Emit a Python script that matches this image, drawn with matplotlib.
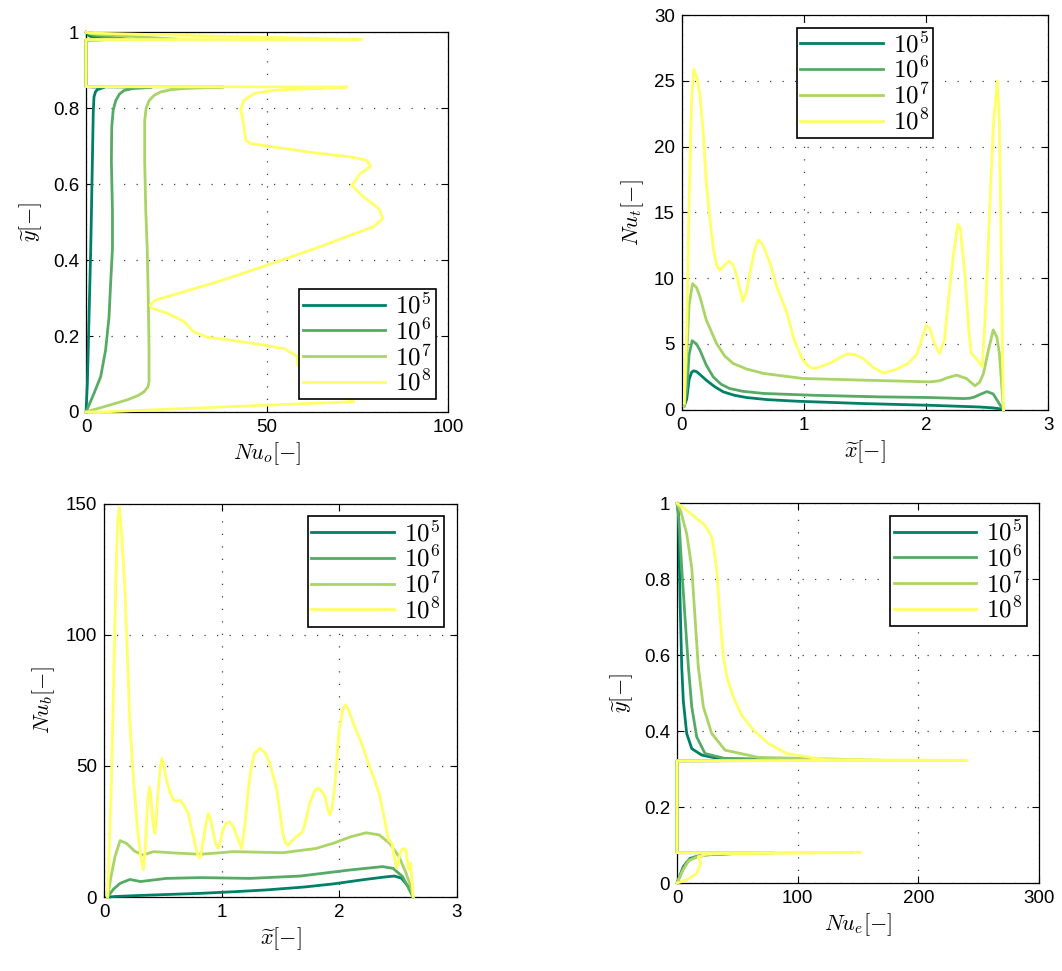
import matplotlib
matplotlib.use("Agg")
import matplotlib.pyplot as plt
from matplotlib.ticker import FuncFormatter

plt.rcParams['font.family'] = ['Liberation Sans', 'DejaVu Sans']
plt.rcParams['mathtext.fontset'] = 'cm'

labels = [r'$10^5$', r'$10^6$', r'$10^7$', r'$10^8$']
colors = ['#008066', '#55aa66', '#aad466', '#ffff66']

# ---------------- Panel 1: Nu_o vs y~ ----------------
o5_nu = [0, 0.37, 0.83, 1.3, 1.5, 1.75, 2.0, 2.2, 2.6, 3.1, 5.0, 0, 0, 6, 1, 0]
o5_y = [0, 0.075, 0.25, 0.43, 0.53, 0.66, 0.79, 0.83, 0.843, 0.849, 0.855, 0.857, 0.98, 0.981, 0.99, 1.0]
o6_nu = [0, 2.2, 4.05, 5.4, 6.35, 6.8, 7.3, 7.3, 7.0, 7.1, 7.5, 8.2, 9.2, 10.5, 13, 18, 0, 0, 12, 2, 0]
o6_y = [0, 0.049, 0.093, 0.163, 0.25, 0.34, 0.43, 0.53, 0.66, 0.75, 0.795, 0.82, 0.837, 0.847, 0.852, 0.855,
        0.857, 0.98, 0.982, 0.992, 1.0]
o7_nu = [0, 5, 11.4, 14.3, 16, 17.1, 17.4, 17.4, 17.2, 16.9, 16.5, 16.2, 16.2, 16.6, 17.4, 18.8, 20.6, 23.5,
         27, 38, 0, 0, 25, 3, 0]
o7_y = [0, 0.014, 0.032, 0.043, 0.053, 0.066, 0.08, 0.163, 0.295, 0.43, 0.53, 0.66, 0.768, 0.8, 0.82, 0.834,
        0.843, 0.849, 0.852, 0.856, 0.857, 0.98, 0.982, 0.995, 1.0]
o8_nu = [0, 4, 63, 74, 68, 60, 58.4, 58.4, 54.7, 49.2, 40.9, 33.5, 29.8, 27.1, 22.5, 18.3, 17.7, 19.2,
         27.1, 36.3, 50.1, 63, 79.4, 82, 80.8, 76.6, 73.4, 75.7, 78.6, 77.5, 72.9, 63.7, 54.7, 45.5,
         44.1, 43.6, 43.2, 42.7, 43.6, 46.4, 51, 54.7, 64.6, 72, 0, 0, 76, 1, 0]
o8_y = [0, 0.0, 0.023, 0.027, 0.06, 0.1, 0.125, 0.146, 0.167, 0.176, 0.188, 0.197, 0.211, 0.238, 0.26, 0.273, 0.282, 0.295,
        0.317, 0.343, 0.387, 0.43, 0.488, 0.51, 0.536, 0.567, 0.597, 0.628, 0.647, 0.663, 0.672, 0.682, 0.694, 0.707,
        0.716, 0.751, 0.777, 0.795, 0.821, 0.839, 0.846, 0.849, 0.852, 0.856, 0.857, 0.981, 0.981, 0.998, 1.0]

# ---------------- Panel 2: Nu_t vs x~ ----------------
t5_x = [0.02, 0.04, 0.06, 0.08, 0.098, 0.12, 0.14, 0.17, 0.2, 0.27, 0.34, 0.43, 0.53, 0.7, 0.94, 1.49, 2.03,
        2.44, 2.55, 2.6, 2.634]
t5_nu = [0.3, 0.8, 2.3, 2.85, 2.96, 2.9, 2.75, 2.5, 2.25, 1.75, 1.36, 1.1, 0.93, 0.77, 0.65, 0.47, 0.34,
         0.21, 0.14, 0.08, 0.0]
t6_x = [0.02, 0.04, 0.06, 0.085, 0.12, 0.148, 0.2, 0.257, 0.32, 0.39, 0.5, 0.67, 1.08, 1.62, 2.03, 2.31, 2.36,
        2.4, 2.45, 2.5, 2.55, 2.58, 2.61, 2.634]
t6_nu = [0.3, 1.5, 4.2, 5.25, 5.0, 4.54, 3.4, 2.5, 1.95, 1.62, 1.4, 1.24, 1.1, 0.98, 0.93, 0.85, 0.88,
         0.98, 1.2, 1.38, 1.2, 0.75, 0.3, 0.0]
t7_x = [0.02, 0.04, 0.06, 0.088, 0.12, 0.148, 0.2, 0.284, 0.35, 0.42, 0.53, 0.67, 0.99, 1.49, 2.03, 2.11,
        2.18, 2.25, 2.33, 2.4, 2.44, 2.47, 2.51, 2.55, 2.58, 2.6, 2.634]
t7_nu = [0.3, 4, 8, 9.58, 9.3, 8.6, 6.83, 5.05, 4.1, 3.52, 3.1, 2.76, 2.38, 2.25, 2.12, 2.2,
         2.45, 2.63, 2.38, 1.82, 2.1, 2.76, 4.5, 6.07, 5.5, 4.3, 0.0]
t8_x = [0.02, 0.04, 0.06, 0.08, 0.098, 0.125, 0.148, 0.175, 0.2, 0.23, 0.257, 0.285, 0.31, 0.35, 0.39, 0.42, 0.45,
        0.5, 0.53, 0.56, 0.6, 0.626, 0.66, 0.72, 0.78, 0.86, 0.92, 0.99, 1.05, 1.1, 1.21, 1.35, 1.42, 1.49, 1.57,
        1.65, 1.75, 1.85, 1.92, 1.96, 2.0, 2.03, 2.07, 2.11, 2.15, 2.18, 2.22, 2.26, 2.28, 2.32, 2.35, 2.37, 2.42,
        2.46, 2.49, 2.52, 2.55, 2.584, 2.6, 2.615, 2.625, 2.634]
t8_nu = [0.5, 6, 16, 23.5, 25.9, 25.2, 24.0, 21.1, 17.3, 14.5, 12.3, 11.0, 10.6, 11.0, 11.3, 11.0, 10.2,
         8.23, 9.0, 10.5, 12.3, 12.9, 12.6, 11.2, 9.3, 7.4, 5.3, 3.78, 3.2, 3.15, 3.53, 4.25, 4.2, 3.85, 3.2,
         2.8, 3.05, 3.5, 4.16, 5.2, 6.4, 6.2, 5.0, 4.29, 5.3, 8.0, 11.5, 14.1, 13.8, 10.1, 6.0, 4.3, 3.8,
         3.27, 8, 15, 21.5, 25.0, 22, 12, 5, 0]

# ---------------- Panel 3: Nu_b vs x~ ----------------
b5_x = [0.03, 0.1, 0.25, 0.5, 0.82, 1.1, 1.38, 1.7, 1.95, 2.23, 2.4, 2.47, 2.53, 2.59, 2.63]
b5_nu = [0, 0.2, 0.5, 0.9, 1.4, 2.0, 2.7, 3.8, 5.0, 6.75, 7.7, 8.0, 7.2, 3.9, 0.0]
b6_x = [0.03, 0.08, 0.136, 0.22, 0.31, 0.53, 0.82, 1.24, 1.67, 2.09, 2.37, 2.46, 2.54, 2.63]
b6_nu = [0, 3, 5.2, 6.7, 5.9, 7.1, 7.4, 7.1, 8.0, 10.3, 11.6, 10.9, 7.75, 0.0]
b7_x = [0.03, 0.06, 0.093, 0.136, 0.19, 0.26, 0.33, 0.42, 0.6, 0.82, 1.1, 1.52, 1.8, 1.95, 2.1, 2.23, 2.34,
        2.43, 2.51, 2.57, 2.61, 2.63]
b7_nu = [0, 8, 15.4, 21.5, 20.5, 17.5, 16.0, 17.3, 16.8, 16.3, 17.3, 16.9, 18.5, 20.5, 23, 24.5, 23.7,
         20.5, 15.4, 9, 3.9, 0.0]
b8_x = [0.03, 0.06, 0.08, 0.1, 0.115, 0.13, 0.15, 0.178, 0.2, 0.22, 0.25, 0.28, 0.31, 0.334, 0.35, 0.36, 0.375,
        0.385, 0.395, 0.405, 0.42, 0.433, 0.445, 0.46, 0.475, 0.49, 0.51, 0.53, 0.56, 0.59, 0.62, 0.645, 0.68,
        0.716, 0.745, 0.773, 0.8, 0.816, 0.835, 0.858, 0.886, 0.91, 0.93, 0.95, 0.97, 0.99, 1.01, 1.04, 1.065,
        1.09, 1.11, 1.14, 1.17, 1.2, 1.226, 1.255, 1.28, 1.325, 1.37, 1.41, 1.44, 1.47, 1.5, 1.52, 1.545,
        1.566, 1.6, 1.637, 1.69, 1.72, 1.75, 1.79, 1.82, 1.85, 1.88, 1.9, 1.92, 1.94, 1.96, 1.98, 2.0, 2.03,
        2.05, 2.08, 2.12, 2.18, 2.23, 2.29, 2.34, 2.38, 2.42, 2.45, 2.47, 2.49, 2.51, 2.53, 2.55, 2.57, 2.585,
        2.595, 2.605, 2.612, 2.63]
b8_nu = [0, 40, 79, 120, 143, 149, 138, 117, 90, 66, 45, 28, 16, 10.3, 18, 28, 38,
         42, 40, 34.5, 27, 24.3, 30, 40.8, 48, 52.9, 50, 44.7, 40, 37, 36.5, 37, 35,
         31.9, 26, 20.5, 15.5, 14.8, 19, 25.6, 31.9, 29, 24.3, 20, 18.6, 21, 25.6, 28.2, 28.7,
         27.5, 25.6, 22, 18.6, 28, 40.8, 50, 54.8, 56.8, 55, 51, 46, 40.8, 31, 24.3, 20.5,
         19.8, 21.5, 23, 24.9, 30, 35.8, 40.5, 41.5, 40.5, 38.3, 34, 31.3, 34, 40.8, 52, 63.7, 71,
         73.3, 71.5, 66.3, 60, 53.5, 46, 39.6, 31, 21.8, 20.5, 15, 11, 15, 17.9, 18.5, 17.9, 12,
         10.3, 13, 11, 0]

# ---------------- Panel 4: Nu_e vs y~ ----------------
e5_nu = [0, 3, 5.2, 10.8, 21.8, 49, 80, 0, 0, 100, 34, 20.5, 12.2, 8, 5.2, 3.9, 2.5, 1.1, 0]
e5_y = [0, 0.025, 0.043, 0.065, 0.074, 0.078, 0.08, 0.08, 0.322, 0.323, 0.328, 0.337, 0.354, 0.394, 0.48,
        0.57, 0.745, 0.98, 1.0]
e6_nu = [0, 4, 8, 14, 25, 50, 80, 0, 0, 140, 39.8, 23.2, 16.3, 12.2, 9.4, 6.6, 3.9, 1.5, 0]
e6_y = [0, 0.03, 0.055, 0.068, 0.075, 0.078, 0.08, 0.08, 0.322, 0.323, 0.328, 0.341, 0.385, 0.464, 0.57,
        0.70, 0.83, 0.96, 1.0]
e7_nu = [0, 5, 10, 18, 30, 55, 80, 0, 0, 175, 67.4, 39.8, 28.7, 21.8, 17.6, 14.9, 12.2, 8, 3, 0]
e7_y = [0, 0.035, 0.06, 0.07, 0.076, 0.078, 0.08, 0.08, 0.322, 0.323, 0.331, 0.35, 0.394, 0.464, 0.57,
        0.70, 0.83, 0.92, 0.98, 1.0]
e8_nu = [0, 8, 16.3, 19.6, 17.6, 25, 152, 0, 0, 240, 122.6, 90.9, 75.6, 63.2, 53, 46.6, 41.5, 38.4, 35.6, 32.9,
         30.5, 28.7, 23.2, 13.5, 1.1, 0]
e8_y = [0, 0.008, 0.025, 0.052, 0.069, 0.077, 0.08, 0.08, 0.322, 0.323, 0.325, 0.341, 0.368, 0.403, 0.445, 0.49,
        0.54, 0.596, 0.70, 0.824, 0.88, 0.911, 0.942, 0.968, 0.998, 1.0]

fig = plt.figure(figsize=(10.62, 9.71), dpi=100)

tick_fs = 13.5
lab_fs = 16
leg_fs = 18


def fmt(v, pos):
    return '%g' % v


def style(ax, xlim, ylim, xticks, yticks, xlabel, ylabel):
    ax.set_xlim(*xlim)
    ax.set_ylim(*ylim)
    ax.set_xticks(xticks)
    ax.set_yticks(yticks)
    ax.xaxis.set_major_formatter(FuncFormatter(fmt))
    ax.yaxis.set_major_formatter(FuncFormatter(fmt))
    ax.tick_params(direction='in', top=True, right=True, length=5, width=0.8,
                   labelsize=tick_fs, pad=5)
    ax.grid(True, linestyle=(0, (1, 9)), color='0.25', linewidth=0.9)
    ax.set_xlabel(xlabel, fontsize=lab_fs, labelpad=3)
    ax.set_ylabel(ylabel, fontsize=lab_fs, labelpad=6)
    for s in ax.spines.values():
        s.set_linewidth(0.9)


def legend(ax, loc):
    lg = ax.legend(loc=loc, fontsize=leg_fs, fancybox=False, edgecolor='k', framealpha=1,
                   handlelength=3.3, handletextpad=0.4, labelspacing=0.0, borderpad=0.15,
                   borderaxespad=0.5)
    lg.get_frame().set_linewidth(1.2)


lw = 2.0

ax1 = fig.add_axes([0.081, 0.5757, 0.341, 0.391])
for xs, ys, c, l in zip([o5_nu, o6_nu, o7_nu, o8_nu], [o5_y, o6_y, o7_y, o8_y], colors, labels):
    ax1.plot(xs, ys, color=c, lw=lw, label=l, clip_on=False, zorder=3)
style(ax1, (0, 100), (0, 1), [0, 50, 100], [0, 0.2, 0.4, 0.6, 0.8, 1],
      r'$Nu_o[-]$', r'$\widetilde{y}[-]$')
legend(ax1, 'lower right')

ax2 = fig.add_axes([0.642, 0.578, 0.345, 0.4065])
for xs, ys, c, l in zip([t5_x, t6_x, t7_x, t8_x], [t5_nu, t6_nu, t7_nu, t8_nu], colors, labels):
    ax2.plot(xs, ys, color=c, lw=lw, label=l, clip_on=False, zorder=3)
style(ax2, (0, 3), (0, 30), [0, 1, 2, 3], [0, 5, 10, 15, 20, 25, 30],
      r'$\widetilde{x}[-]$', r'$Nu_t[-]$')
legend(ax2, 'upper center')

ax3 = fig.add_axes([0.098, 0.0762, 0.332, 0.405])
for xs, ys, c, l in zip([b5_x, b6_x, b7_x, b8_x], [b5_nu, b6_nu, b7_nu, b8_nu], colors, labels):
    ax3.plot(xs, ys, color=c, lw=lw, label=l, clip_on=False, zorder=3)
style(ax3, (0, 3), (0, 150), [0, 1, 2, 3], [0, 50, 100, 150],
      r'$\widetilde{x}[-]$', r'$Nu_b[-]$')
legend(ax3, 'upper right')

ax4 = fig.add_axes([0.6375, 0.0906, 0.341, 0.391])
for xs, ys, c, l in zip([e5_nu, e6_nu, e7_nu, e8_nu], [e5_y, e6_y, e7_y, e8_y], colors, labels):
    ax4.plot(xs, ys, color=c, lw=lw, label=l, clip_on=False, zorder=3)
style(ax4, (0, 300), (0, 1), [0, 100, 200, 300], [0, 0.2, 0.4, 0.6, 0.8, 1],
      r'$Nu_e[-]$', r'$\widetilde{y}[-]$')
legend(ax4, 'upper right')

fig.savefig('out.png', dpi=100)
